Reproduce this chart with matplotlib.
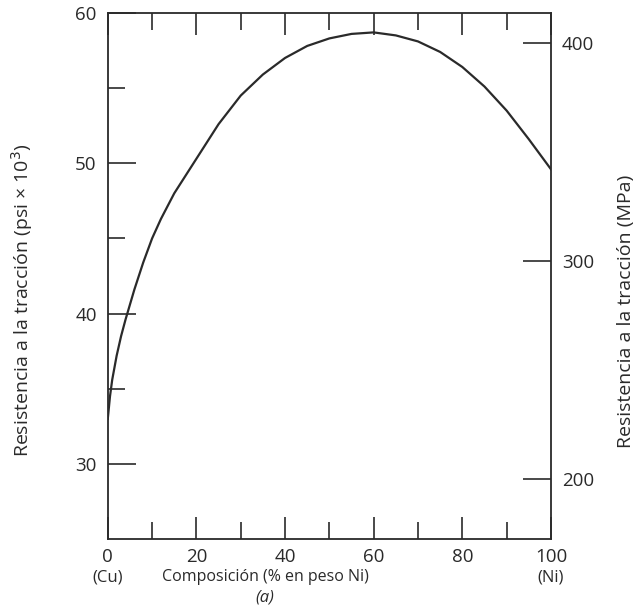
import numpy as np
import matplotlib
matplotlib.use("Agg")
import matplotlib.pyplot as plt

plt.rcParams['font.family'] = ['Open Sans', 'DejaVu Sans']

# Composición (% en peso Ni) y resistencia a la tracción (psi x 10^3)
comp = [0, 0.5, 1, 2, 3, 4, 6, 8, 10, 12, 15, 20, 25, 30, 35, 40, 45, 50,
        55, 60, 65, 70, 75, 80, 85, 90, 95, 100]
resist = [33.0, 34.5, 35.6, 37.2, 38.5, 39.6, 41.6, 43.4, 45.0, 46.3, 48.0,
          50.3, 52.6, 54.5, 55.9, 57.0, 57.8, 58.3, 58.6, 58.7, 58.5, 58.1,
          57.4, 56.4, 55.1, 53.5, 51.6, 49.6]

KSI_TO_MPA = 6.895

x_major = [0, 20, 40, 60, 80, 100]
x_minor = [10, 30, 50, 70, 90]
y_major = [30, 40, 50, 60]
y_minor = [35, 45, 55]
mpa_ticks = [200, 300, 400]

col = '#2a2a2a'
fig = plt.figure(figsize=(6.34, 6.12), dpi=100)
ax = fig.add_axes([0.170, 0.119, 0.699, 0.860])
ax.plot(comp, resist, color=col, lw=1.6, solid_joinstyle='round')
ax.set_xlim(0, 100)
ax.set_ylim(25, 60)

for s in ax.spines.values():
    s.set_color(col)
    s.set_linewidth(1.3)

ax.set_xticks(x_major)
ax.set_xticks(x_minor, minor=True)
ax.set_yticks(y_major)
ax.set_yticks(y_minor, minor=True)
ax.tick_params(axis='x', which='both', direction='in', top=True, bottom=True,
               colors=col, labelsize=13.5, pad=6)
ax.tick_params(axis='x', which='major', length=16, width=1.2)
ax.tick_params(axis='x', which='minor', length=12, width=1.2)
ax.tick_params(axis='y', which='both', direction='in', left=True, right=False,
               colors=col, labelsize=13.5, pad=8)
ax.tick_params(axis='y', which='major', length=20, width=1.2)
ax.tick_params(axis='y', which='minor', length=12, width=1.2)
ax.set_yticklabels([str(v) for v in y_major])
ax.set_xticklabels([str(v) for v in x_major])

ax2 = ax.twinx()
ax2.set_ylim(25 * KSI_TO_MPA, 60 * KSI_TO_MPA)
ax2.set_yticks(mpa_ticks)
ax2.tick_params(axis='y', direction='in', length=20, width=1.2, colors=col,
                labelsize=13.5, pad=8)
for s in ax2.spines.values():
    s.set_visible(False)
ax2.set_ylabel('Resistencia a la tracción (MPa)', fontsize=14, color=col)
ax2.yaxis.set_label_coords(1.148, 0.432)

ax.set_ylabel('Resistencia a la tracción (psi × 10$^3$)', fontsize=14,
              color=col)
ax.yaxis.set_label_coords(-0.165, 0.454)

fig.text(0.418, 0.057, 'Composición (% en peso Ni)', fontsize=11.5, color=col,
         ha='center', va='center')
fig.text(0.170, 0.057, '(Cu)', fontsize=12, color=col, ha='center', va='center')
fig.text(0.869, 0.057, '(Ni)', fontsize=12, color=col, ha='center', va='center')
fig.text(0.418, 0.024, '(a)', fontsize=12, color=col, ha='center', va='center',
         style='italic')

fig.savefig('out.png', dpi=100)
